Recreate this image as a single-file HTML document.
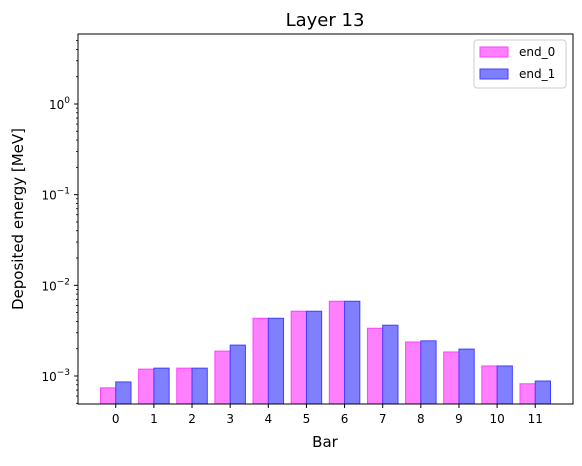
<!DOCTYPE html>
<html><head><meta charset="utf-8"><style>
body{margin:0;background:#fff;}
svg{font-family:"DejaVu Sans","Liberation Sans",sans-serif;}
</style></head><body>
<svg id="chart" width="582" height="461" viewBox="0 0 582 461">
<rect width="582" height="461" fill="#fff"/>
<text x="325" y="26" font-size="18" text-anchor="middle">Layer 13</text>
<text x="325" y="447" font-size="15" text-anchor="middle">Bar</text>
<text transform="translate(23,219) rotate(-90)" font-size="15" text-anchor="middle">Deposited energy [MeV]</text>
<g id="bars"></g>
<g id="axes"></g>
<rect x="78" y="34" width="495" height="370" fill="none" stroke="#000" stroke-width="1"/>
<g>
<rect x="474" y="40" width="92" height="48" rx="3" fill="#fff" stroke="#ccc"/>
<rect x="480" y="47" width="28" height="10" fill="#ff80ff" stroke="#ff40ff"/>
<text x="519" y="56" font-size="12">end_0</text>
<rect x="480" y="69" width="28" height="10" fill="#8080ff" stroke="#4040ff"/>
<text x="519" y="78" font-size="12">end_1</text>
</g>
</svg>
<script>
const categories = ["0","1","2","3","4","5","6","7","8","9","10","11"];
const end0 = [7.4e-4,1.19e-3,1.22e-3,1.88e-3,4.33e-3,5.18e-3,6.67e-3,3.36e-3,2.37e-3,1.84e-3,1.29e-3,8.2e-4];
const end1 = [8.6e-4,1.22e-3,1.22e-3,2.19e-3,4.33e-3,5.18e-3,6.67e-3,3.63e-3,2.44e-3,1.98e-3,1.29e-3,8.8e-4];
const yTickExps = [-3,-2,-1,0];

const NS="http://www.w3.org/2000/svg";
const L=78,R=573,T=34,B=404;
const xMin=-0.99,xMax=11.99;
const yMinLog=-3.309,yMaxLog=0.772;
function xs(v){return L+(v-xMin)/(xMax-xMin)*(R-L);}
function ys(v){return B-(Math.log10(v)-yMinLog)/(yMaxLog-yMinLog)*(B-T);}
function mk(tag,attrs,parent){const e=document.createElementNS(NS,tag);for(const k in attrs)e.setAttribute(k,attrs[k]);parent.appendChild(e);return e;}
const gb=document.getElementById('bars'),ga=document.getElementById('axes');
categories.forEach((c,i)=>{
  const w=xs(0.4)-xs(0);
  const y0=ys(end0[i]);
  const r0=mk('rect',{x:xs(i-0.4),y:y0,width:w,height:B-y0,fill:'#ff80ff',stroke:'#ff40ff','stroke-width':1},gb);
  
  
  const y1=ys(end1[i]);
  const r1=mk('rect',{x:xs(i),y:y1,width:w,height:B-y1,fill:'#8080ff',stroke:'#4040ff','stroke-width':1},gb);
  
  
  mk('line',{x1:xs(i),x2:xs(i),y1:B,y2:B+4,stroke:'#000'},ga);
  const t=mk('text',{x:xs(i),y:B+19,'font-size':12,'text-anchor':'middle'},ga);
  t.textContent=c;
  
  
});
yTickExps.forEach(e=>{
  const y=ys(Math.pow(10,e));
  mk('line',{x1:L-4,x2:L,y1:y,y2:y,stroke:'#000'},ga);
  const t=mk('text',{x:L-8,y:y+5,'font-size':12,'text-anchor':'end'},ga);
  t.innerHTML='10<tspan dy="-6" font-size="9">'+(e<0?'\u2212'+(-e):e)+'</tspan>';
  
  
});
for(let e=-4;e<=0;e++){for(let m=2;m<=9;m++){const v=m*Math.pow(10,e);const lv=Math.log10(v);if(lv<yMinLog||lv>yMaxLog)continue;const y=ys(v);mk('line',{x1:L-2,x2:L,y1:y,y2:y,stroke:'#000','stroke-width':0.8},ga);}}
</script>
</body></html>
